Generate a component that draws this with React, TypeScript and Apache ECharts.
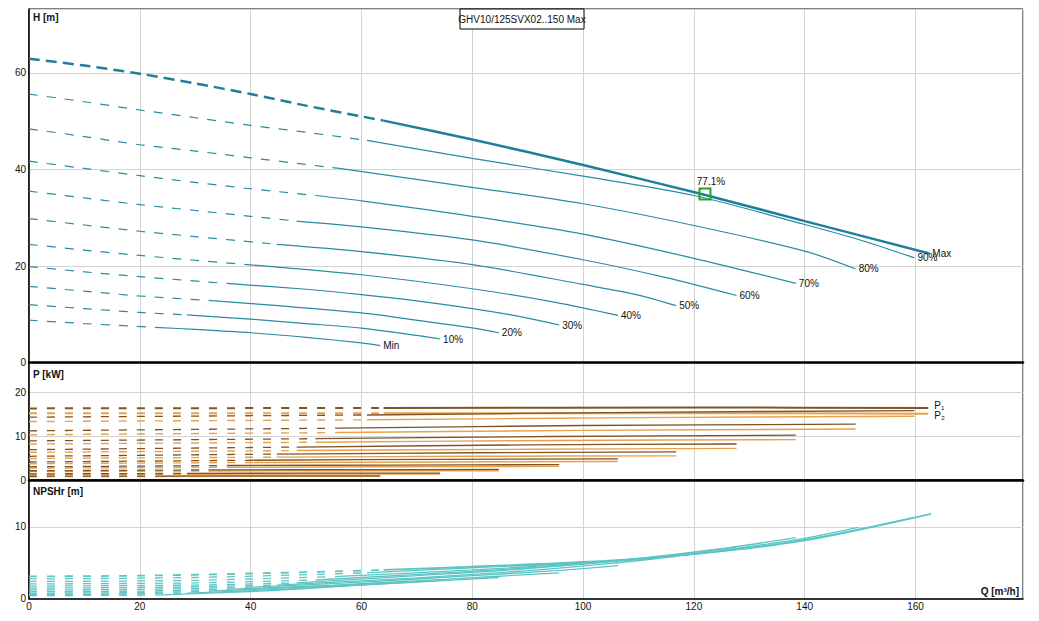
import React, { useEffect, useRef } from 'react';
import * as echarts from 'echarts';

// ---------- data ----------
const SPEED_LABELS = ['Max', '90%', '80%', '70%', '60%', '50%', '40%', '30%', '20%', '10%', 'Min'];
// flow where the curves switch from dashed to solid
const DASH_END_Q = [64, 61, 56, 51.7, 48.3, 44.7, 40.5, 35.7, 32.4, 28.5, 22.8];

// Head curves [Q m3/h, H m]
const H_MAX = [[0, 62.9], [10, 61.5], [20, 59.8], [30, 57.8], [40, 55.6], [50, 53.2], [64, 50.1], [80, 46.2], [100, 40.9], [121, 35.0], [140, 29.3], [162.5, 22.6]];
const H_90 = [[0, 55.6], [10, 54.0], [20, 52.3], [30, 50.7], [40, 49.1], [50, 47.7], [61, 46.0], [80, 42.3], [100, 38.6], [120, 34.6], [140, 28.6], [150, 25.4], [159.8, 21.7]];
const H_80 = [[0, 48.4], [10, 46.8], [20, 45.1], [30, 43.8], [40, 42.4], [56, 40.2], [80, 36.3], [100, 32.9], [120, 28.4], [140, 23.1], [149.2, 19.4]];
const H_70 = [[0, 41.7], [10, 40.2], [20, 38.7], [30, 37.3], [40, 36.0], [51.7, 34.6], [60, 33.5], [80, 30.3], [100, 26.6], [120, 21.6], [138.4, 16.4]];
const H_60 = [[0, 35.5], [10, 34.1], [20, 32.7], [30, 31.5], [40, 30.3], [48.3, 29.3], [60, 28.1], [80, 25.4], [100, 21.3], [115, 17.6], [127.7, 13.9]];
const H_50 = [[0, 29.8], [10, 28.5], [20, 27.2], [30, 26.1], [44.7, 24.5], [60, 23.0], [80, 20.3], [100, 16.2], [110, 14.0], [116.8, 11.8]];
const H_40 = [[0, 24.5], [10, 23.3], [20, 22.2], [30, 21.2], [40.5, 20.2], [60, 18.2], [80, 15.3], [95, 12.5], [106.3, 9.8]];
const H_30 = [[0, 19.9], [10, 18.8], [20, 17.8], [35.7, 16.4], [50, 15.2], [60, 14.1], [70, 12.8], [80, 11.2], [88, 9.7], [95.7, 7.8]];
const H_20 = [[0, 15.8], [10, 14.8], [20, 13.8], [32.4, 12.9], [45, 11.8], [60, 10.3], [70.6, 8.7], [80, 7.2], [84.8, 6.2]];
const H_10 = [[0, 12.0], [10, 11.2], [20, 10.4], [28.5, 9.9], [40, 9.0], [50, 8.1], [60, 7.15], [70.6, 5.55], [74.2, 4.9]];
const H_MIN = [[0, 8.8], [10, 8.1], [22.8, 7.3], [30, 6.9], [40, 6.2], [50, 5.25], [60, 4.1], [63.4, 3.55]];
const H_CURVES = [H_MAX, H_90, H_80, H_70, H_60, H_50, H_40, H_30, H_20, H_10, H_MIN];

// Power curves [Q, P kW]
const P1_MAX = [[0, 16.3], [64, 16.4], [120, 16.5], [162.3, 16.4]];
const P2_MAX = [[0, 15.2], [64, 15.2], [120, 15.2], [162.3, 15.1]];
const P1_90 = [[0, 14.3], [61, 14.8], [110, 15.4], [159.8, 15.8]];
const P2_90 = [[0, 13.3], [61, 13.7], [110, 14.2], [159.8, 14.5]];
const P1_80 = [[0, 11.2], [56, 11.8], [100, 12.4], [149.2, 12.7]];
const P2_80 = [[0, 10.3], [56, 10.8], [100, 11.3], [149.2, 11.6]];
const P1_70 = [[0, 8.9], [51.7, 9.4], [95, 9.9], [138.4, 10.2]];
const P2_70 = [[0, 8.2], [51.7, 8.6], [95, 9.0], [138.4, 9.2]];
const P1_60 = [[0, 6.9], [48.3, 7.5], [90, 8.0], [127.7, 8.2]];
const P2_60 = [[0, 6.3], [48.3, 6.7], [90, 7.0], [127.7, 7.2]];
const P1_50 = [[0, 5.4], [44.7, 5.9], [80, 6.2], [116.8, 6.4]];
const P2_50 = [[0, 4.9], [44.7, 5.2], [80, 5.4], [116.8, 5.5]];
const P1_40 = [[0, 4.1], [40.5, 4.5], [75, 4.7], [106.3, 4.8]];
const P2_40 = [[0, 3.7], [40.5, 4.0], [75, 4.1], [106.3, 4.2]];
const P1_30 = [[0, 3.0], [35.7, 3.3], [65, 3.4], [95.7, 3.5]];
const P2_30 = [[0, 2.7], [35.7, 2.9], [65, 3.0], [95.7, 3.1]];
const P1_20 = [[0, 2.1], [32.4, 2.3], [60, 2.35], [84.8, 2.4]];
const P2_20 = [[0, 1.9], [32.4, 2.05], [60, 2.1], [84.8, 2.1]];
const P1_10 = [[0, 1.4], [28.5, 1.5], [50, 1.55], [74.2, 1.55]];
const P2_10 = [[0, 1.2], [28.5, 1.3], [50, 1.35], [74.2, 1.35]];
const P1_MIN = [[0, 0.85], [22.8, 0.9], [45, 0.95], [63.4, 0.95]];
const P2_MIN = [[0, 0.75], [22.8, 0.8], [45, 0.82], [63.4, 0.82]];
const P1_CURVES = [P1_MAX, P1_90, P1_80, P1_70, P1_60, P1_50, P1_40, P1_30, P1_20, P1_10, P1_MIN];
const P2_CURVES = [P2_MAX, P2_90, P2_80, P2_70, P2_60, P2_50, P2_40, P2_30, P2_20, P2_10, P2_MIN];
const P_LABELS = ['P₁', 'P₂'];

// NPSHr curves [Q, m]
const N_MAX = [[0, 3.1], [20, 3.2], [40, 3.5], [64, 4.0], [80, 4.45], [100, 5.1], [120, 6.2], [140, 8.1], [162.8, 11.8]];
const N_90 = [[0, 2.75], [30, 2.95], [61, 3.6], [80, 4.3], [100, 5.0], [120, 6.2], [140, 8.2], [159.8, 11.3]];
const N_80 = [[0, 2.4], [30, 2.55], [56, 3.1], [80, 4.0], [100, 4.9], [120, 6.25], [140, 8.4], [149.6, 9.9]];
const N_70 = [[0, 2.05], [30, 2.2], [51.7, 2.6], [80, 3.8], [100, 4.8], [120, 6.4], [138.4, 8.5]];
const N_60 = [[0, 1.75], [30, 1.9], [48.3, 2.2], [70, 3.2], [90, 4.2], [110, 5.6], [127.7, 7.2]];
const N_50 = [[0, 1.47], [25, 1.6], [44.7, 1.9], [70, 2.9], [90, 3.9], [105, 4.9], [116.8, 5.9]];
const N_40 = [[0, 1.22], [20, 1.3], [40.5, 1.6], [60, 2.3], [80, 3.2], [95, 3.9], [106.3, 4.6]];
const N_30 = [[0, 0.98], [20, 1.05], [35.7, 1.3], [55, 1.9], [75, 2.7], [95.7, 3.6]];
const N_20 = [[0, 0.78], [20, 0.85], [32.4, 1.05], [50, 1.6], [70, 2.3], [84.8, 2.95]];
const N_10 = [[0, 0.59], [15, 0.63], [28.5, 0.78], [45, 1.3], [60, 1.9], [74.2, 2.55]];
const N_MIN = [[0, 0.43], [10, 0.45], [22.8, 0.5], [40, 1.0], [52, 1.5], [63.4, 2.2]];
const N_CURVES = [N_MAX, N_90, N_80, N_70, N_60, N_50, N_40, N_30, N_20, N_10, N_MIN];

const DUTY_POINT = [122, 34.9];
const DUTY_LABEL = '77.1%';
const TITLE = 'GHV10/125SVX02..150 Max';

const Q_AXIS = { min: 0, max: 179.4, interval: 20 };
const H_AXIS = { min: 0, max: 73.2, interval: 20 };
const P_AXIS = { min: 0, max: 26.7, interval: 10 };
const N_AXIS = { min: 0, max: 16.5, interval: 10 };

// ---------- styling ----------
const FONT = 'Liberation Sans, DejaVu Sans, Arial, sans-serif';
const H_COLOR = '#2a8ba3';
const H_MAX_COLOR = '#1f7f9b';
const P1_COLOR = '#7f5426';
const P2_COLOR = '#e9a14d';
const N_COLOR = '#5ec4c4';
const GRID_COLOR = '#d3d3d3';

function splitAt(points: number[][], q: number) {
  return {
    dashed: points.filter((p) => p[0] <= q + 1e-9),
    solid: points.filter((p) => p[0] >= q - 1e-9),
  };
}

function line(data: number[][], axis: number, color: string, width: number, type: any, z: number, extra: any = {}) {
  return {
    type: 'line',
    xAxisIndex: axis,
    yAxisIndex: axis,
    data,
    symbol: 'none',
    showSymbol: false,
    smooth: 0.3,
    silent: true,
    z,
    lineStyle: { color, width, type },
    ...extra,
  };
}

function pLabel(text: string, dy: number) {
  return {
    endLabel: {
      show: true,
      distance: 6,
      offset: [0, dy],
      formatter: text,
      fontSize: 10,
      fontFamily: FONT,
      color: '#111',
    },
  };
}

export default function App() {
  const ref = useRef<HTMLDivElement>(null);
  useEffect(() => {
    if (!ref.current) return;
    const chart = echarts.init(ref.current, undefined, { renderer: 'svg' });
    const series: any[] = [];

    // Head
    H_CURVES.forEach((pts, i) => {
      const { dashed, solid } = splitAt(pts, DASH_END_Q[i]);
      const isMax = i === 0;
      const c = isMax ? H_MAX_COLOR : H_COLOR;
      const w = isMax ? 2.5 : 1.2;
      series.push(line(dashed, 0, c, w, isMax ? [11, 6] : [9, 9], 5));
      series.push(
        line(solid, 0, c, w, 'solid', 5, {
          endLabel: {
            show: true,
            formatter: SPEED_LABELS[i],
            distance: 3,
            fontSize: 10,
            fontFamily: FONT,
            color: '#111',
          },
        })
      );
    });

    // Power
    P2_CURVES.forEach((pts, i) => {
      const { dashed, solid } = splitAt(pts, DASH_END_Q[i]);
      const w = i === 0 ? 2 : 1.4;
      series.push(line(dashed, 1, P2_COLOR, w, [8, 10], 4));
      series.push(line(solid, 1, P2_COLOR, w, 'solid', 4, i === 0 ? pLabel(P_LABELS[1], 2) : {}));
    });
    P1_CURVES.forEach((pts, i) => {
      const { dashed, solid } = splitAt(pts, DASH_END_Q[i]);
      const w = i === 0 ? 2 : 1.3;
      series.push(line(dashed, 1, P1_COLOR, w, [8, 10], 5));
      series.push(line(solid, 1, P1_COLOR, w, 'solid', 5, i === 0 ? pLabel(P_LABELS[0], -2) : {}));
    });

    // NPSHr
    N_CURVES.forEach((pts, i) => {
      const { dashed, solid } = splitAt(pts, DASH_END_Q[i]);
      const w = i === 0 ? 1.8 : 1.3;
      series.push(line(dashed, 2, N_COLOR, w, [8, 10], 4));
      series.push(line(solid, 2, N_COLOR, w, 'solid', 4));
    });

    // Duty point
    series.push({
      type: 'scatter',
      xAxisIndex: 0,
      yAxisIndex: 0,
      data: [DUTY_POINT],
      symbol: 'rect',
      symbolSize: 11,
      z: 10,
      silent: true,
      itemStyle: { color: 'rgba(0,0,0,0)', borderColor: '#22a52a', borderWidth: 2, opacity: 1 },
      label: {
        show: true,
        position: 'top',
        distance: 1,
        offset: [6, 0],
        formatter: DUTY_LABEL,
        fontSize: 10,
        fontFamily: FONT,
        color: '#111',
      },
    });

    const gridBase = { left: 29, width: 994, show: true, borderColor: '#000', borderWidth: 1, backgroundColor: '#fff' };
    const xAxisFor = (i: number) => ({
      type: 'value',
      gridIndex: i,
      ...Q_AXIS,
      axisLine: { show: true, onZero: false, lineStyle: { color: '#000', width: i < 2 ? 2.5 : 1.5 } },
      axisTick: { show: false },
      axisLabel: {
        show: i === 2,
        showMaxLabel: false,
        fontSize: 10,
        fontFamily: FONT,
        color: '#111',
        margin: 3,
      },
      splitLine: { show: true, lineStyle: { color: GRID_COLOR, width: 1 } },
    });
    const yAxisFor = (i: number, ax: any) => ({
      type: 'value',
      gridIndex: i,
      ...ax,
      axisLine: { show: true, lineStyle: { color: '#000', width: 1.5 } },
      axisTick: { show: false },
      axisLabel: { fontSize: 10, fontFamily: FONT, color: '#111', margin: 3, showMaxLabel: false },
      splitLine: { show: true, lineStyle: { color: GRID_COLOR, width: 1 } },
    });

    chart.setOption({
      animation: false,
      backgroundColor: '#fff',
      grid: [
        { ...gridBase, top: 9, height: 353.7 },
        { ...gridBase, top: 362.7, height: 117.3 },
        { ...gridBase, top: 480, height: 118.7 },
      ],
      xAxis: [xAxisFor(0), xAxisFor(1), xAxisFor(2)],
      yAxis: [yAxisFor(0, H_AXIS), yAxisFor(1, P_AXIS), yAxisFor(2, N_AXIS)],
      series,
      graphic: [
        {
          type: 'rect',
          shape: { x: 460, y: 9, width: 124, height: 20 },
          style: { fill: '#fff', stroke: '#000', lineWidth: 1 },
          z: 20,
        },
        {
          type: 'text',
          x: 522,
          y: 19,
          style: { text: TITLE, fontSize: 10, fontFamily: FONT, fill: '#111', align: 'center', verticalAlign: 'middle' },
          z: 21,
        },
        {
          type: 'text',
          x: 33,
          y: 17,
          style: { text: 'H [m]', fontSize: 10, fontWeight: 'bold', fontFamily: FONT, fill: '#111', verticalAlign: 'middle' },
          z: 21,
        },
        {
          type: 'text',
          x: 33,
          y: 374,
          style: { text: 'P [kW]', fontSize: 10, fontWeight: 'bold', fontFamily: FONT, fill: '#111', verticalAlign: 'middle' },
          z: 21,
        },
        {
          type: 'text',
          x: 33,
          y: 491,
          style: { text: 'NPSHr [m]', fontSize: 10, fontWeight: 'bold', fontFamily: FONT, fill: '#111', verticalAlign: 'middle' },
          z: 21,
        },
        {
          type: 'text',
          x: 1019,
          y: 591,
          style: { text: 'Q [m³/h]', fontSize: 10, fontWeight: 'bold', fontFamily: FONT, fill: '#111', align: 'right', verticalAlign: 'middle' },
          z: 21,
        },
      ],
    });
    return () => chart.dispose();
  }, []);

  return <div ref={ref} style={{ position: 'absolute', left: 0, top: 0, width: 1039, height: 621 }} />;
}
